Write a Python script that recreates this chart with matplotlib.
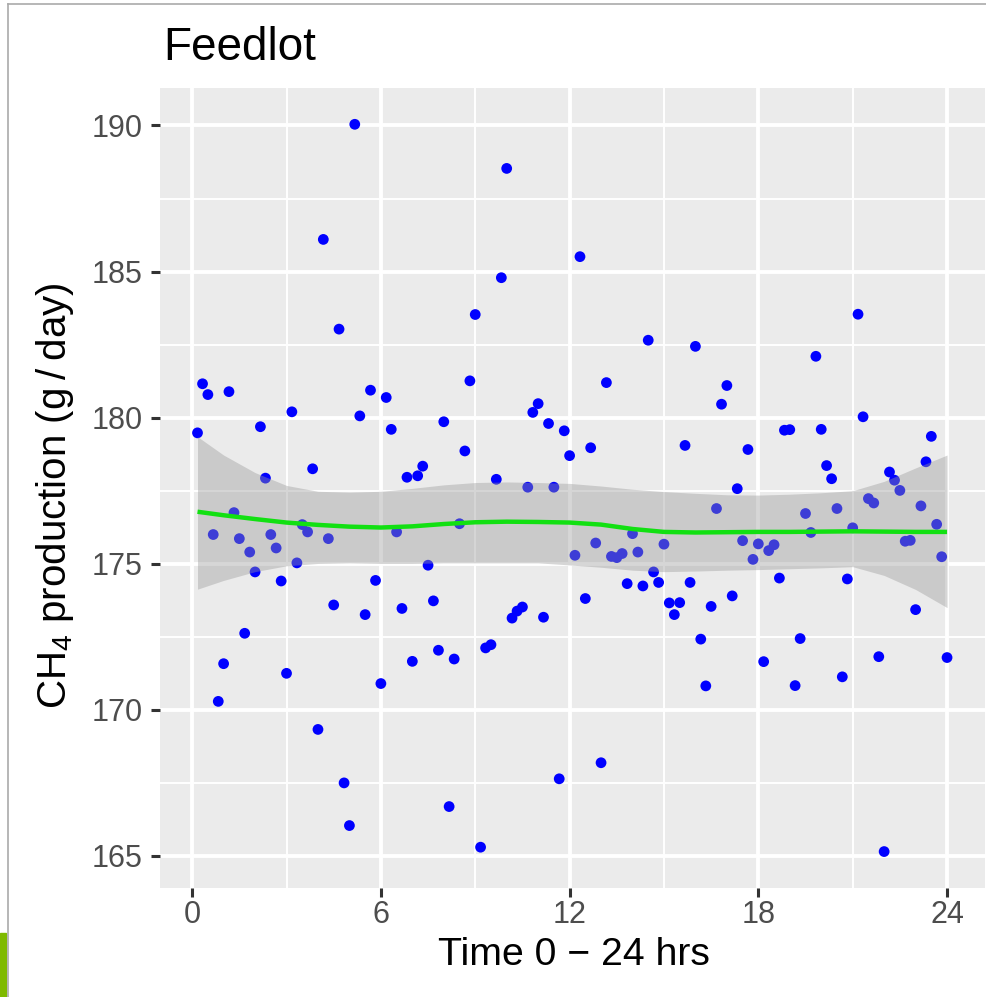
import numpy as np
import matplotlib
matplotlib.use('Agg')
import matplotlib.pyplot as plt
from matplotlib.lines import Line2D
from matplotlib.patches import Rectangle

plt.rcParams['font.family'] = ['Liberation Sans', 'DejaVu Sans']
plt.rcParams['mathtext.fontset'] = 'custom'
plt.rcParams['mathtext.rm'] = 'Liberation Sans'
plt.rcParams['mathtext.it'] = 'Liberation Sans'

# time of day (hours), one reading every 10 minutes
hours = [0.17, 0.33, 0.5, 0.67, 0.83, 1.0, 1.17, 1.33, 1.5, 1.67, 1.83, 2.0,
         2.17, 2.33, 2.5, 2.67, 2.83, 3.0, 3.17, 3.33, 3.5, 3.67, 3.83, 4.0,
         4.17, 4.33, 4.5, 4.67, 4.83, 5.0, 5.17, 5.33, 5.5, 5.67, 5.83, 6.0,
         6.17, 6.33, 6.5, 6.67, 6.83, 7.0, 7.17, 7.33, 7.5, 7.67, 7.83, 8.0,
         8.17, 8.33, 8.5, 8.67, 8.83, 9.0, 9.17, 9.33, 9.5, 9.67, 9.83, 10.0,
         10.17, 10.33, 10.5, 10.67, 10.83, 11.0, 11.17, 11.33, 11.5, 11.67, 11.83, 12.0,
         12.17, 12.33, 12.5, 12.67, 12.83, 13.0, 13.17, 13.33, 13.5, 13.67, 13.83, 14.0,
         14.17, 14.33, 14.5, 14.67, 14.83, 15.0, 15.17, 15.33, 15.5, 15.67, 15.83, 16.0,
         16.17, 16.33, 16.5, 16.67, 16.83, 17.0, 17.17, 17.33, 17.5, 17.67, 17.83, 18.0,
         18.17, 18.33, 18.5, 18.67, 18.83, 19.0, 19.17, 19.33, 19.5, 19.67, 19.83, 20.0,
         20.17, 20.33, 20.5, 20.67, 20.83, 21.0, 21.17, 21.33, 21.5, 21.67, 21.83, 22.0,
         22.17, 22.33, 22.5, 22.67, 22.83, 23.0, 23.17, 23.33, 23.5, 23.67, 23.83, 24.0]

# CH4 production (g/day)
ch4 = [179.48, 181.16, 180.79, 176.0, 170.29, 171.58, 180.89, 176.75, 175.86, 172.62, 175.4, 174.72,
       179.69, 177.93, 176.0, 175.54, 174.41, 171.25, 180.2, 175.03, 176.34, 176.09, 178.25, 169.33,
       186.1, 175.86, 173.59, 183.03, 167.5, 166.04, 190.04, 180.06, 173.26, 180.94, 174.43, 170.9,
       180.69, 179.6, 176.09, 173.47, 177.96, 171.66, 178.01, 178.34, 174.95, 173.73, 172.04, 179.86,
       166.69, 171.74, 176.37, 178.86, 181.26, 183.53, 165.3, 172.12, 172.23, 177.89, 184.79, 188.53,
       173.14, 173.38, 173.52, 177.62, 180.18, 180.48, 173.17, 179.8, 177.62, 167.64, 179.55, 178.7,
       175.29, 185.51, 173.81, 178.97, 175.71, 168.19, 181.2, 175.25, 175.21, 175.35, 174.32, 176.03,
       175.4, 174.24, 182.65, 174.72, 174.36, 175.67, 173.66, 173.26, 173.67, 179.05, 174.36, 182.44,
       172.42, 170.82, 173.54, 176.89, 180.46, 181.1, 173.9, 177.57, 175.79, 178.91, 175.15, 175.68,
       171.65, 175.45, 175.65, 174.51, 179.57, 179.59, 170.83, 172.44, 176.72, 176.07, 182.1, 179.6,
       178.36, 177.91, 176.89, 171.13, 174.48, 176.23, 183.54, 180.03, 177.23, 177.08, 171.82, 165.15,
       178.14, 177.86, 177.51, 175.77, 175.8, 173.43, 176.98, 178.49, 179.36, 176.35, 175.24, 171.79]

# loess fit and its 95% band
fit_x = [0.17, 1, 2, 3, 4, 5, 6, 7, 8, 9, 10, 11, 12, 13, 14, 15, 16, 17, 18, 19, 20, 21, 22, 23, 24]
fit_y = [176.78, 176.66, 176.53, 176.41, 176.33, 176.27, 176.24, 176.28, 176.36, 176.42, 176.44, 176.43,
         176.41, 176.34, 176.19, 176.09, 176.07, 176.08, 176.09, 176.09, 176.1, 176.11, 176.1, 176.09, 176.09]
fit_hi = [179.35, 178.72, 178.12, 177.68, 177.48, 177.45, 177.48, 177.58, 177.7, 177.78, 177.8, 177.78,
          177.75, 177.66, 177.55, 177.47, 177.41, 177.36, 177.35, 177.38, 177.43, 177.5, 177.82, 178.28, 178.72]
fit_lo = [174.13, 174.43, 174.73, 174.93, 175.01, 175.03, 175.01, 175.01, 175.03, 175.03, 175.03, 175.03,
          174.96, 174.88, 174.78, 174.73, 174.75, 174.78, 174.8, 174.83, 174.86, 174.9, 174.6, 174.12, 173.5]

xticks = [0, 6, 12, 18, 24]
yticks = [165, 170, 175, 180, 185, 190]

fig = plt.figure(figsize=(9.86, 9.97), dpi=100)
ax = fig.add_axes([0.1623, 0.1094, 0.8362, 0.8024])
ax.set_facecolor('#EBEBEB')

ax.scatter(hours, ch4, s=60, color='#0000FF', edgecolors='none', zorder=3)
ax.fill_between(fit_x, fit_lo, fit_hi, color='#999999', alpha=0.4, linewidth=0, zorder=4)
ax.plot(fit_x, fit_y, color='#12E012', linewidth=3.2, zorder=5, solid_capstyle='butt')

xpad = 0.05 * (max(hours) - min(hours))
ypad = 0.05 * (max(ch4) - min(ch4))
ax.set_xlim(min(hours) - xpad, max(hours) + xpad)
ax.set_ylim(min(ch4) - ypad, max(ch4) + ypad)

ax.set_xticks(xticks)
ax.set_yticks(yticks)
ax.set_xticks([3, 9, 15, 21], minor=True)
ax.set_yticks([167.5, 172.5, 177.5, 182.5, 187.5], minor=True)
ax.grid(which='major', color='white', linewidth=2.8)
ax.grid(which='minor', color='white', linewidth=1.4)
ax.set_axisbelow(True)
for s in ax.spines.values():
    s.set_visible(False)

ax.tick_params(which='major', length=6.5, width=2.2, color='#333333',
               labelsize=22, labelcolor='#4D4D4D')
ax.tick_params(axis='x', pad=2)
ax.tick_params(axis='y', pad=6)
ax.tick_params(which='minor', length=0)

ax.set_xlabel('Time 0 \u2212 24 hrs', fontsize=28.3)
ax.set_ylabel('CH$_4$ production (g\u2009/\u2009day)', fontsize=29)
ax.xaxis.set_label_coords(0.502, -0.061)
ax.yaxis.set_label_coords(-0.102, 0.49)

fig.text(163 / 986, 1 - 60 / 997, 'Feedlot', fontsize=33, ha='left', va='baseline')

# frame of the slide around the chart
fig.add_artist(Line2D([8 / 986, 1], [1 - 4 / 997, 1 - 4 / 997], color='#AAAAAA', linewidth=1.2))
fig.add_artist(Line2D([8 / 986, 8 / 986], [0, 1 - 4 / 997], color='#AAAAAA', linewidth=1.2))
fig.add_artist(Rectangle((0, 0), 6 / 986, 64 / 997, color='#7FBA00', transform=fig.transFigure))

fig.savefig('out.png', dpi=100)
